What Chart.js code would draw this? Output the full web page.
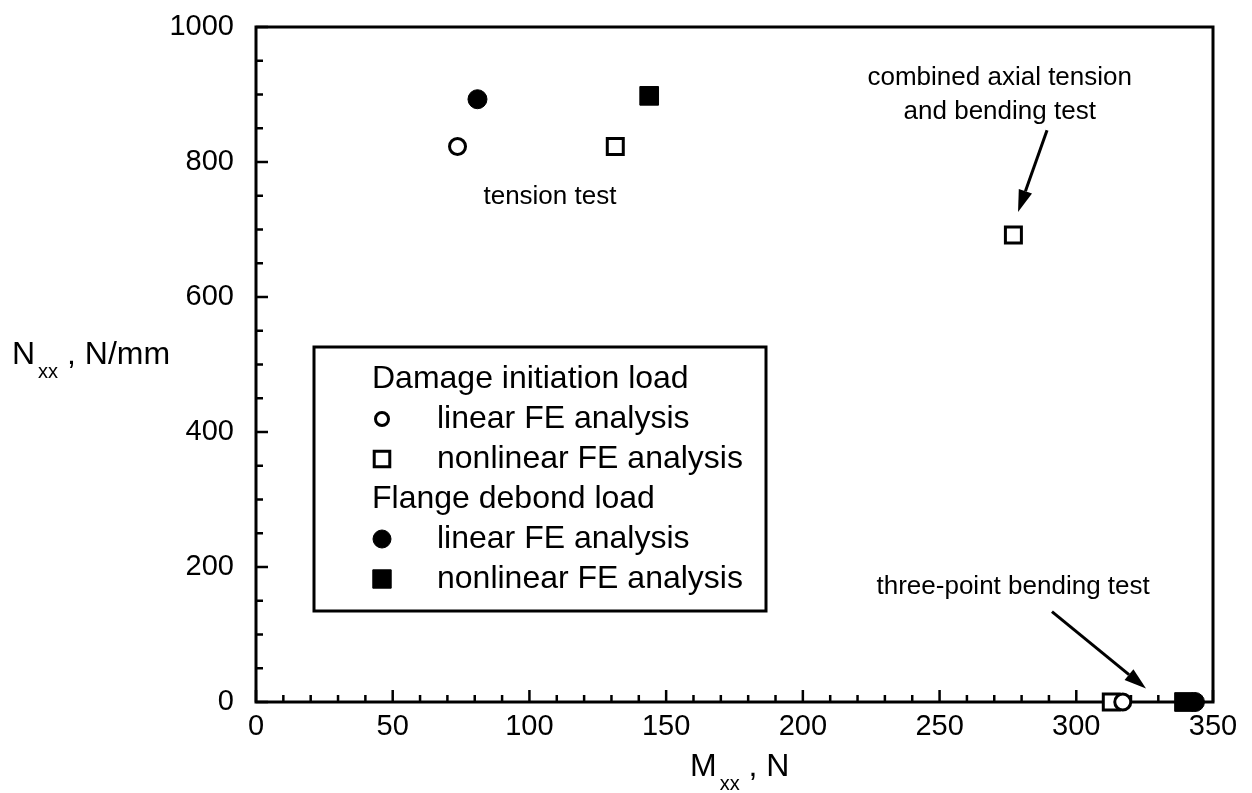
<!DOCTYPE html>
<html>
<head>
<meta charset="utf-8">
<script src="https://cdn.jsdelivr.net/npm/chart.js@4.4.1/dist/chart.umd.min.js"></script>
<style>
  html, body { margin: 0; padding: 0; background: #fff; }
  canvas { display: block; }
</style>
</head>
<body>
<canvas id="loadChart" width="1252" height="793"></canvas>
<script>
// Data
const groupLabels = ['Damage initiation load', 'Flange debond load'];
const seriesLabels = ['linear FE analysis', 'nonlinear FE analysis'];

const initLinearX = [73.7, 317];
const initLinearY = [823, 0];
const initNonlinX = [131.4, 277, 312.8];
const initNonlinY = [823, 692, 0];
const debondLinearX = [81, 343.4];
const debondLinearY = [893, 0];
const debondNonlinX = [143.8, 339.4];
const debondNonlinY = [898, 0];

const xTicks = [0, 50, 100, 150, 200, 250, 300, 350];
const yTicks = [0, 200, 400, 600, 800, 1000];
const xMinorStep = 10;
const yMinorStep = 50;

const FONT = '"Liberation Sans", Arial, Helvetica, sans-serif';

function toPoints(xs, ys) {
  return xs.map((x, i) => ({ x: x, y: ys[i] }));
}

// Inward tick marks, frame, axis titles, legend box and annotations
const decorPlugin = {
  id: 'decor',
  beforeDatasetsDraw(chart) {
    const ctx = chart.ctx;
    const area = chart.chartArea;
    const xs = chart.scales.x;
    const ys = chart.scales.y;
    ctx.save();
    ctx.strokeStyle = '#000';
    ctx.lineWidth = 3;
    ctx.strokeRect(area.left, area.top, area.right - area.left, area.bottom - area.top);

    ctx.lineWidth = 2.5;
    ctx.beginPath();
    for (let v = xs.min; v <= xs.max; v += xMinorStep) {
      const px = xs.getPixelForValue(v);
      const len = (v % 50 === 0) ? 12 : 7;
      ctx.moveTo(px, area.bottom);
      ctx.lineTo(px, area.bottom - len);
    }
    for (let v = ys.min; v <= ys.max; v += yMinorStep) {
      const py = ys.getPixelForValue(v);
      const len = (v % 200 === 0) ? 12 : 7;
      ctx.moveTo(area.left, py);
      ctx.lineTo(area.left + len, py);
    }
    ctx.stroke();
    ctx.restore();
  },
  afterDatasetsDraw(chart) {
    const ctx = chart.ctx;
    const xs = chart.scales.x;
    const ys = chart.scales.y;
    const px = v => xs.getPixelForValue(v);
    const py = v => ys.getPixelForValue(v);
    ctx.save();
    ctx.fillStyle = '#000';
    ctx.strokeStyle = '#000';

    // axis titles with subscripts
    function subTitle(x, y, main, sub, rest) {
      ctx.textAlign = 'left';
      ctx.textBaseline = 'alphabetic';
      ctx.font = '32px ' + FONT;
      ctx.fillText(main, x, y);
      let w = ctx.measureText(main).width;
      ctx.font = '20px ' + FONT;
      ctx.fillText(sub, x + w + 3, y + 14);
      w += 3 + ctx.measureText(sub).width;
      ctx.font = '32px ' + FONT;
      ctx.fillText(rest, x + w, y);
    }
    subTitle(12, 364, 'N', 'xx', ' , N/mm');
    subTitle(690, 776, 'M', 'xx', ' , N');

    // annotations
    ctx.font = '26px ' + FONT;
    ctx.textAlign = 'center';
    ctx.textBaseline = 'middle';
    ctx.fillText('tension test', px(107.5), py(748));
    ctx.fillText('combined axial tension', px(272), py(924));
    ctx.fillText('and bending test', px(272), py(874));
    ctx.fillText('three-point bending test', px(276.9), py(170));

    function arrow(x1, y1, x2, y2) {
      const ang = Math.atan2(y2 - y1, x2 - x1);
      const head = 22, half = 7;
      const bx = x2 - head * Math.cos(ang), by = y2 - head * Math.sin(ang);
      ctx.lineWidth = 3;
      ctx.beginPath();
      ctx.moveTo(x1, y1);
      ctx.lineTo(bx, by);
      ctx.stroke();
      ctx.beginPath();
      ctx.moveTo(x2, y2);
      ctx.lineTo(bx + half * Math.sin(ang), by - half * Math.cos(ang));
      ctx.lineTo(bx - half * Math.sin(ang), by + half * Math.cos(ang));
      ctx.closePath();
      ctx.fill();
    }
    arrow(px(289.3), py(847), px(278.7), py(726));
    arrow(px(291.1), py(134), px(325.5), py(20));

    // legend box
    const bx = 314, by = 347, bw = 452, bh = 264;
    ctx.fillStyle = '#fff';
    ctx.fillRect(bx, by, bw, bh);
    ctx.fillStyle = '#000';
    ctx.lineWidth = 3;
    ctx.strokeRect(bx, by, bw, bh);
    ctx.font = '32px ' + FONT;
    ctx.textAlign = 'left';
    ctx.textBaseline = 'middle';
    const rowY = [379, 419, 459, 499, 539, 579];
    const sets = chart.data.datasets;
    ctx.fillText(groupLabels[0], 372, rowY[0]);
    ctx.fillText(groupLabels[1], 372, rowY[3]);
    const items = [[1, 0], [2, 1], [4, 2], [5, 3]];
    items.forEach(([row, di]) => {
      const ds = sets[di];
      ctx.fillText(ds.label, 437, rowY[row]);
      ctx.fillStyle = ds.pointBackgroundColor;
      ctx.strokeStyle = '#000';
      ctx.lineWidth = ds.pointBorderWidth;
      Chart.helpers.drawPoint(ctx, {
        pointStyle: ds.pointStyle,
        radius: ds.legendRadius,
        borderWidth: ds.pointBorderWidth,
        rotation: 0
      }, 382, rowY[row]);
      ctx.fillStyle = '#000';
    });
    ctx.restore();
  }
};

const datasets = [
  {
    label: seriesLabels[0],
    data: toPoints(initLinearX, initLinearY),
    pointStyle: 'circle', pointRadius: 8, legendRadius: 6.5,
    pointBackgroundColor: '#fff', pointBorderColor: '#000', pointBorderWidth: 3
  },
  {
    label: seriesLabels[1],
    data: toPoints(initNonlinX, initNonlinY),
    pointStyle: 'rect', pointRadius: 11.3, legendRadius: 11,
    pointBackgroundColor: '#fff', pointBorderColor: '#000', pointBorderWidth: 3
  },
  {
    label: seriesLabels[0],
    data: toPoints(debondLinearX, debondLinearY),
    pointStyle: 'circle', pointRadius: 9.5, legendRadius: 9,
    pointBackgroundColor: '#000', pointBorderColor: '#000', pointBorderWidth: 1
  },
  {
    label: seriesLabels[1],
    data: toPoints(debondNonlinX, debondNonlinY),
    pointStyle: 'rect', pointRadius: 13.2, legendRadius: 13,
    pointBackgroundColor: '#000', pointBorderColor: '#000', pointBorderWidth: 1
  }
].map(ds => Object.assign(ds, { showLine: false, clip: false, pointHoverRadius: ds.pointRadius }));

new Chart(document.getElementById('loadChart'), {
  type: 'scatter',
  data: { datasets: datasets },
  options: {
    responsive: false,
    animation: false,
    events: [],
    layout: { padding: { left: 0, right: 39, top: 27, bottom: 0 } },
    plugins: {
      legend: { display: false },
      tooltip: { enabled: false }
    },
    scales: {
      x: {
        type: 'linear',
        min: 0,
        max: 350,
        afterFit: scale => {
          scale.height = 91;
          scale.paddingLeft = 0;
          scale.paddingRight = 0;
        },
        afterBuildTicks: scale => { scale.ticks = xTicks.map(v => ({ value: v })); },
        grid: { display: false, drawTicks: false },
        border: { display: false },
        ticks: {
          color: '#000',
          padding: 8,
          maxRotation: 0,
          font: { family: FONT, size: 29 },
          callback: v => String(v)
        }
      },
      y: {
        type: 'linear',
        min: 0,
        max: 1000,
        afterFit: scale => {
          scale.width = 256;
          scale.paddingTop = 0;
          scale.paddingBottom = 0;
        },
        afterBuildTicks: scale => { scale.ticks = yTicks.map(v => ({ value: v })); },
        grid: { display: false, drawTicks: false },
        border: { display: false },
        ticks: {
          color: '#000',
          padding: 22,
          font: { family: FONT, size: 29 },
          callback: v => String(v)
        }
      }
    }
  },
  plugins: [decorPlugin]
});
</script>
</body>
</html>
